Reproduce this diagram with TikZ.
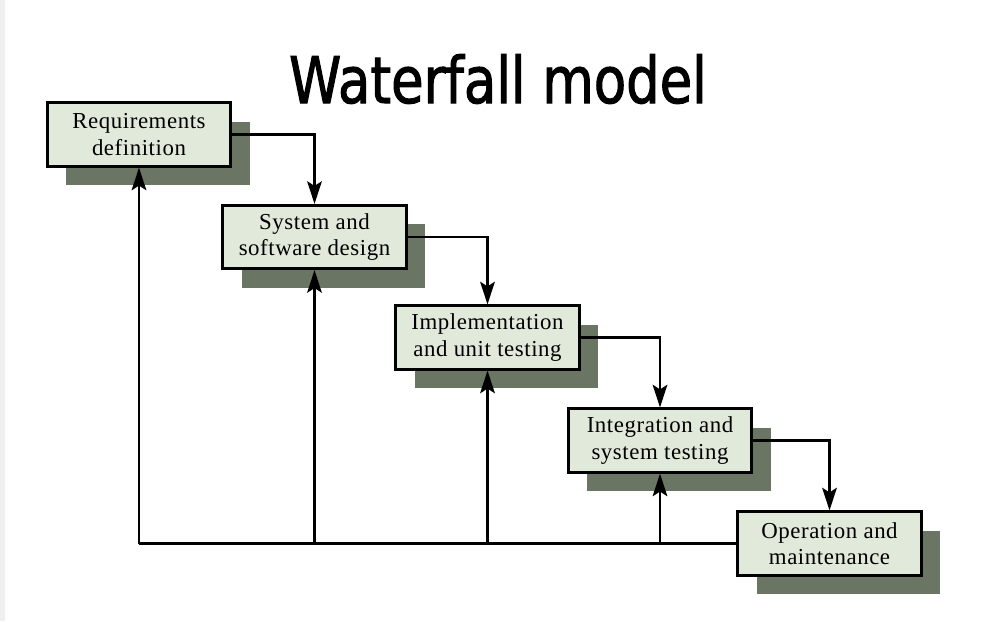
\documentclass[tikz,border=0pt]{standalone}
\usepackage{fontspec}
\setmainfont{Liberation Serif}[LetterSpace=2.5]
\newfontfamily\titlefont{DejaVu Sans}[FakeStretch=0.82, FakeBold=1.6]
\usetikzlibrary{arrows.meta,shadows}
\definecolor{boxfill}{HTML}{E0E9DA}
\definecolor{shadowgray}{HTML}{6B7563}
\definecolor{edgegray}{HTML}{EFEFEF}
\begin{document}
\begin{tikzpicture}[x=0.03cm, y=-0.03cm,
	stagebox/.style={draw=black, line width=2.4pt, fill=boxfill, minimum width=5.5cm, minimum height=1.9cm,
		align=center, font=\fontsize{19.5}{22.5}\selectfont,
		drop shadow={shadow xshift=0.57cm, shadow yshift=-0.57cm, fill=shadowgray, opacity=1}},
	flow/.style={line width=1.9pt, -{Stealth[length=0.68cm, width=0.44cm, inset=0.14cm]}},
	headline/.style={font=\titlefont\fontsize{55}{60}\selectfont}]
	\useasboundingbox (0,0) rectangle (988,621);
	\fill[edgegray] (0,0) rectangle (5,621);

	\node[headline] (title) at (498,79) {Waterfall model};

	\node[stagebox] (req) at (139,134.5) {Requirements\\definition};
	\node[stagebox] (sys) at (314.5,237) {System and\\software design};
	\node[stagebox] (imp) at (487.5,337.5) {Implementation\\and unit testing};
	\node[stagebox] (integ) at (660,440.5) {Integration and\\system testing};
	\node[stagebox] (op) at (829.5,543.5) {Operation and\\maintenance};

	% down the steps
	\draw[flow] (req.east) -| (sys.north);
	\draw[flow] (sys.east) -| (imp.north);
	\draw[flow] (imp.east) -| (integ.north);
	\draw[flow] (integ.east) -| (op.north);

	% feedback line
	\coordinate (back1) at (req.south |- op.west);
	\coordinate (back2) at (sys.south |- op.west);
	\coordinate (back3) at (imp.south |- op.west);
	\coordinate (back4) at (integ.south |- op.west);
	\draw[line width=1.9pt] (op.west) -- (back1);
	\draw[flow] (back1) -- (req.south);
	\draw[flow] (back2) -- (sys.south);
	\draw[flow] (back3) -- (imp.south);
	\draw[flow] (back4) -- (integ.south);
\end{tikzpicture}
\end{document}
